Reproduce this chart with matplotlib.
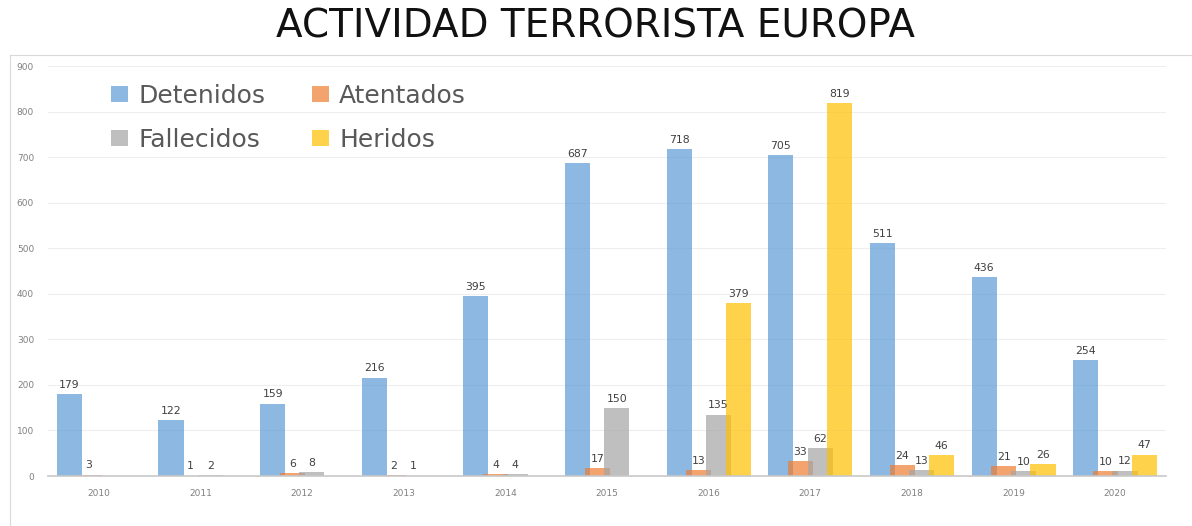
import matplotlib
matplotlib.use("Agg")
import matplotlib.pyplot as plt
import numpy as np
from matplotlib.lines import Line2D

years = ["2010", "2011", "2012", "2013", "2014", "2015", "2016", "2017", "2018", "2019", "2020"]
detenidos = [179, 122, 159, 216, 395, 687, 718, 705, 511, 436, 254]
atentados = [3, 1, 6, 2, 4, 17, 13, 33, 24, 21, 10]
fallecidos = [0, 2, 8, 1, 4, 150, 135, 62, 13, 10, 12]
heridos = [0, 0, 0, 0, 0, 0, 379, 819, 46, 26, 47]

series = [("Detenidos", detenidos, "#5B9BD5"),
          ("Atentados", atentados, "#ED7D31"),
          ("Fallecidos", fallecidos, "#A5A5A5"),
          ("Heridos", heridos, "#FFC000")]

W, H = 1192, 526
fig = plt.figure(figsize=(W / 100, H / 100), dpi=100)
ax = fig.add_axes([48 / W, 50 / H, 1118 / W, 410 / H])

x = np.arange(len(years))
step = 0.193
width = 0.247
handles = []
for i, (name, vals, col) in enumerate(series):
    bars = ax.bar(x + (i - 1.5) * step, vals, width, color=col, alpha=0.7,
                  label=name, zorder=2, linewidth=0)
    handles.append(bars)
    labels = ["" if v == 0 else str(v) for v in vals]
    ax.bar_label(bars, labels=labels, padding=3, fontsize=7.8, color="#404040",
                 family="DejaVu Sans")

ax.set_xlim(-0.5, len(years) - 0.5)
ax.set_ylim(0, 900)
ax.set_yticks(np.arange(0, 901, 100))
ax.set_xticks(x)
ax.set_xticklabels(years)
ax.tick_params(axis="both", length=0, labelsize=6.5, labelcolor="#808080")
ax.tick_params(axis="x", pad=9)
ax.tick_params(axis="y", pad=10)
ax.grid(axis="y", color="#eeeeee", linewidth=0.8, zorder=0)
for s in ["left", "right", "top"]:
    ax.spines[s].set_visible(False)
ax.spines["bottom"].set_color("#c8c8c8")
ax.spines["bottom"].set_linewidth(1.2)

order = [0, 2, 1, 3]
leg = fig.legend([handles[k] for k in order], [series[k][0] for k in order],
                 loc="upper left", bbox_to_anchor=(111 / W, 1 - 84 / H), ncol=2,
                 frameon=False, prop={"family": "DejaVu Sans", "size": 18},
                 labelcolor="#595959", handlelength=0.68, handleheight=0.6,
                 handletextpad=0.42, columnspacing=1.85, labelspacing=0.8,
                 borderpad=0, borderaxespad=0)

fig.text(0.5, 1 - 27 / H, "ACTIVIDAD TERRORISTA EUROPA", ha="center", va="center",
         fontsize=28, family="DejaVu Sans", color="#111111")

# chart area border
fig.add_artist(Line2D([10 / W, 10 / W], [0, 1 - 55 / H], transform=fig.transFigure,
                      color="#d9d9d9", linewidth=0.8))
fig.add_artist(Line2D([10 / W, 1], [1 - 55 / H, 1 - 55 / H], transform=fig.transFigure,
                      color="#d9d9d9", linewidth=0.8))

fig.savefig("out.png", dpi=100)
